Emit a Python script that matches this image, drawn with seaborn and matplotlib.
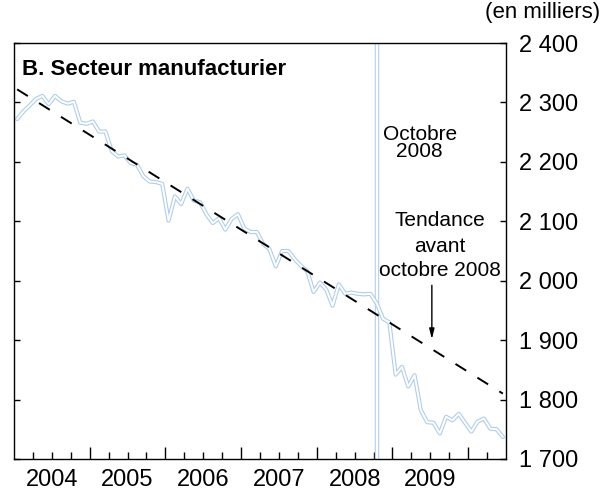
import numpy as np
import pandas as pd
import matplotlib
matplotlib.use("Agg")
import matplotlib.pyplot as plt
import seaborn as sns
from matplotlib.ticker import FuncFormatter

# emploi manufacturier (en milliers), mensuel, janvier 2004 -> juin 2010
emploi = [2272, 2285, 2295, 2306, 2311, 2297, 2311, 2302, 2298, 2301,
          2266, 2264, 2268, 2251, 2251, 2218, 2209, 2211, 2198, 2195,
          2176, 2167, 2166, 2163, 2101, 2142, 2129, 2155, 2135, 2132,
          2112, 2097, 2105, 2086, 2104, 2112, 2088, 2082, 2082, 2062,
          2053, 2024, 2050, 2050, 2036, 2025, 2016, 1981, 1997, 1985,
          1958, 1994, 1978, 1980, 1978, 1977, 1978, 1962, 1936, 1930,
          1842, 1855, 1822, 1841, 1782, 1762, 1761, 1743, 1771, 1765,
          1776, 1761, 1746, 1763, 1768, 1751, 1750, 1737]
premiere_annee = 2004
annees = [2004, 2005, 2006, 2007, 2008, 2009]
tendance_debut = 2322   # tendance avant octobre 2008, premier mois
tendance_fin = 1810     # et dernier mois
mois_rupture = 57       # octobre 2008
y_ticks = [1700, 1800, 1900, 2000, 2100, 2200, 2300, 2400]

mois = np.arange(len(emploi))
temps = premiere_annee + (mois + 0.5) / 12
df = pd.DataFrame({"temps": temps, "emploi": emploi})
df_tend = pd.DataFrame({"temps": [temps[0], temps[-1]],
                        "valeur": [tendance_debut, tendance_fin]})
x_rupture = premiere_annee + (mois_rupture + 0.5) / 12

sns.set_style("white")
plt.rcParams["font.family"] = ["Liberation Sans", "DejaVu Sans"]
plt.rcParams["text.color"] = "black"
plt.rcParams["xtick.color"] = "black"
plt.rcParams["ytick.color"] = "black"

fig = plt.figure(figsize=(6.03, 4.91), dpi=100)
ax = fig.add_axes([0.0232, 0.0652, 0.816, 0.8472])

bleu = "#b0cdea"
# ligne verticale double (octobre 2008)
ax.axvline(x_rupture, color=bleu, lw=3.2, zorder=1)
ax.axvline(x_rupture, color="white", lw=1.7, zorder=1.1)

# serie en trait double
sns.lineplot(data=df, x="temps", y="emploi", ax=ax, color=bleu, lw=3.0, zorder=2)
sns.lineplot(data=df, x="temps", y="emploi", ax=ax, color="white", lw=1.4, zorder=2.1)

# tendance
sns.lineplot(data=df_tend, x="temps", y="valeur", ax=ax, color="black", lw=1.4,
             linestyle=(0, (6.5, 6.8)), zorder=3)

ax.set_xlim(premiere_annee, premiere_annee + 6.5)
ax.set_ylim(y_ticks[0], y_ticks[-1])
ax.set_xlabel("")
ax.set_ylabel("")

# axe des x : traits annuels longs, trimestriels courts, etiquettes au milieu de l'annee
major = [a + 1 for a in annees]
ax.set_xticks(major, labels=[""] * len(major))
quarts = [a + q / 4 for a in annees + [annees[-1] + 1] for q in (1, 2, 3)]
quarts = [q for q in quarts if q < premiere_annee + 6.5]
etiq = [str(int(q)) if (q % 1) == 0.5 and int(q) in annees else "" for q in quarts]
ax.set_xticks(quarts, labels=etiq, minor=True)
ax.tick_params(axis="x", which="major", direction="in", length=9, width=1, bottom=True, top=False)
ax.tick_params(axis="x", which="minor", direction="in", length=4.7, width=1, bottom=True,
               top=False, labelsize=17, pad=7)

ax.set_yticks(y_ticks)
ax.yaxis.set_major_formatter(FuncFormatter(lambda v, p: f"{v:,.0f}".replace(",", " ")))
ax.tick_params(axis="y", direction="in", length=4, width=1, left=True, right=True,
               labelleft=False, labelright=True, labelsize=17, pad=9)

for s in ax.spines.values():
    s.set_visible(True)
    s.set_color("black")
    s.set_linewidth(1)

ax.text(0.016, 0.923, "B. Secteur manufacturier", transform=ax.transAxes,
        fontsize=16, fontweight="bold", va="baseline", ha="left")
ax.text(2009.36, 2237, "Octobre", fontsize=15, ha="center", va="baseline")
ax.text(2009.36, 2208, "2008", fontsize=15, ha="center", va="baseline")
ax.text(2009.63, 2092, "Tendance", fontsize=15, ha="center", va="baseline")
ax.text(2009.63, 2049, "avant", fontsize=15, ha="center", va="baseline")
ax.text(2009.63, 2008, "octobre 2008", fontsize=15, ha="center", va="baseline")
ax.annotate("", xy=(2009.52, 1897), xytext=(2009.52, 1997),
            arrowprops=dict(arrowstyle="-|>,head_length=0.6,head_width=0.15",
                            color="black", lw=1))

fig.text(0.995, 0.963, "(en milliers)", fontsize=16, ha="right", va="baseline")

fig.savefig("out.png", dpi=100)
